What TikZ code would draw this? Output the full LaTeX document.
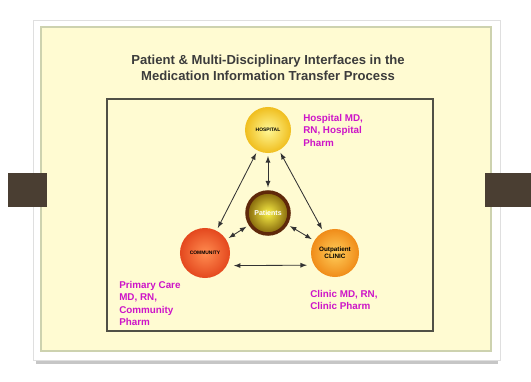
\documentclass[tikz,border=0pt]{standalone}
\usepackage{fontspec}
\setmainfont{Liberation Sans}
\usetikzlibrary{arrows,positioning,shadings}

\definecolor{cardyellow}{RGB}{255,251,210}
\definecolor{cardline}{RGB}{205,210,175}
\definecolor{tabbrown}{RGB}{74,62,50}
\definecolor{labelpink}{RGB}{205,20,200}
\definecolor{titlegrey}{RGB}{60,60,60}
\definecolor{boxline}{RGB}{80,80,70}
\definecolor{hospin}{RGB}{255,248,150}
\definecolor{hospout}{RGB}{240,190,30}
\definecolor{patin}{RGB}{250,240,70}
\definecolor{patout}{RGB}{130,100,10}
\definecolor{patring}{RGB}{95,40,10}
\definecolor{commin}{RGB}{255,140,80}
\definecolor{commout}{RGB}{228,72,30}
\definecolor{clinin}{RGB}{255,205,90}
\definecolor{clinout}{RGB}{240,140,25}

\begin{document}
\begin{tikzpicture}
          [x=0.025cm,y=-0.025cm,>=latex,
           site/.style={circle,minimum size=1.15cm,inner sep=0pt,font=\fontsize{3.5}{4}\selectfont\bfseries,align=center},
           lbl/.style={align=left,inner sep=0pt,text=labelpink,font=\fontsize{7}{8.9}\selectfont\bfseries},
           link/.style={<->,line width=0.6pt,black!80,shorten <=2pt,shorten >=2pt}]
          \useasboundingbox (0,0) rectangle (531,381);

          % card, shadow and tabs
          \fill[gray!45] (36,359) rectangle (498,364);
          \draw[gray!25,fill=white] (33,20) rectangle (500,360);
          \draw[cardline,line width=1pt,fill=cardyellow] (41,27) rectangle (491,351);
          \fill[tabbrown] (8,173) rectangle (47,207);
          \fill[tabbrown] (485,173) rectangle (531,207);

          \node[align=center,text=titlegrey,font=\fontsize{9.3}{11.4}\selectfont\bfseries] (title) at (268,68)
            {Patient \& Multi-Disciplinary Interfaces in the\\Medication Information Transfer Process};
          \draw[boxline,line width=1.2pt] (107,99) rectangle (433,331);

          \node[site,inner color=hospin,outer color=hospout] (hosp) at (268,130) {HOSPITAL};
          \node[site,inner color=patin,outer color=patout,draw=patring,line width=2.5pt,minimum size=1.05cm,text=white,font=\fontsize{5}{6}\selectfont\bfseries] (pat) at (268,213) {Patients};
          \node[site,inner color=commin,outer color=commout,minimum size=1.25cm] (comm) at (205,253) {COMMUNITY};
          \node[site,inner color=clinin,outer color=clinout,minimum size=1.2cm,font=\fontsize{4.5}{5}\selectfont\bfseries] (clin) at (335,253) {Outpatient\\CLINIC};

          \node[lbl,anchor=north west] (hosplbl) at (303,114) {Hospital MD,\\RN, Hospital\\Pharm};
          \node[lbl,anchor=north west] (commlbl) at (119,281) {Primary Care\\MD, RN,\\Community\\Pharm};
          \node[lbl,anchor=north west] (clinlbl) at (310,290) {Clinic MD, RN,\\Clinic Pharm};

          \foreach \from/\to in {hosp/comm,hosp/clin,hosp/pat,pat/comm,pat/clin}
            \draw[link] (\from) -- (\to);
          \draw[link,shorten <=5pt,shorten >=5pt] (comm.-30) -- (clin.-150);
        \end{tikzpicture}
\end{document}
